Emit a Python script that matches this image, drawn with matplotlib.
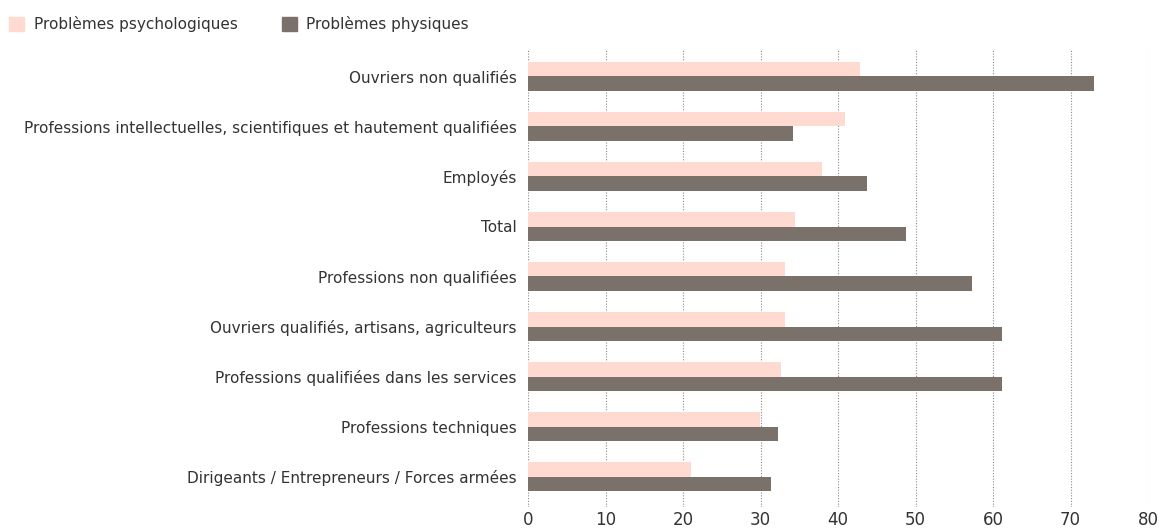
import matplotlib
matplotlib.use("Agg")
import matplotlib.pyplot as plt
import numpy as np
from matplotlib.patches import Patch

categories = [
    "Ouvriers non qualifiés",
    "Professions intellectuelles, scientifiques et hautement qualifiées",
    "Employés",
    "Total",
    "Professions non qualifiées",
    "Ouvriers qualifiés, artisans, agriculteurs",
    "Professions qualifiées dans les services",
    "Professions techniques",
    "Dirigeants / Entrepreneurs / Forces armées",
]
psycho = [42.9, 40.9, 37.9, 34.4, 33.1, 33.1, 32.6, 29.9, 21.0]
physique = [73.0, 34.2, 43.7, 48.8, 57.3, 61.1, 61.1, 32.2, 31.3]
xticks = [0, 10, 20, 30, 40, 50, 60, 70, 80]

c_psy = "#FFDAD0"
c_phy = "#7B716B"
txt = "#333333"

plt.rcParams['font.family'] = ['DejaVu Sans']

fig = plt.figure(figsize=(11.59, 5.29), dpi=100)
ax = fig.add_axes([528/1159, 1 - 507/529, (1148 - 528)/1159, (507 - 50)/529])

y = np.arange(len(categories))
h = 0.29
ax.barh(y - h/2, psycho, height=h, color=c_psy, zorder=2)
ax.barh(y + h/2, physique, height=h, color=c_phy, zorder=2)

ax.set_xlim(0, 80)
ax.set_ylim(len(categories) - 1 + 0.61, -0.53)
ax.set_xticks(xticks)
ax.set_yticks(y)
ax.set_yticklabels(categories)
ax.tick_params(axis='both', length=0, labelsize=11, labelcolor=txt)
ax.tick_params(axis='x', pad=3, labelsize=12)
ax.tick_params(axis='y', pad=8)
ax.xaxis.grid(True, linestyle=(0, (1, 1.5)), color="#8a8a8a", linewidth=0.8, zorder=0)
for s in ax.spines.values():
    s.set_visible(False)

handles = [Patch(color=c_psy), Patch(color=c_phy)]
fig.legend(handles, ["Problèmes psychologiques", "Problèmes physiques"],
           loc="upper left", bbox_to_anchor=(-0.004, 0.995), ncol=2, frameon=False,
           fontsize=11, handlelength=1.0, handleheight=1.0, handletextpad=0.6,
           columnspacing=2.9, labelcolor=txt)

fig.savefig("out.png", dpi=100)
